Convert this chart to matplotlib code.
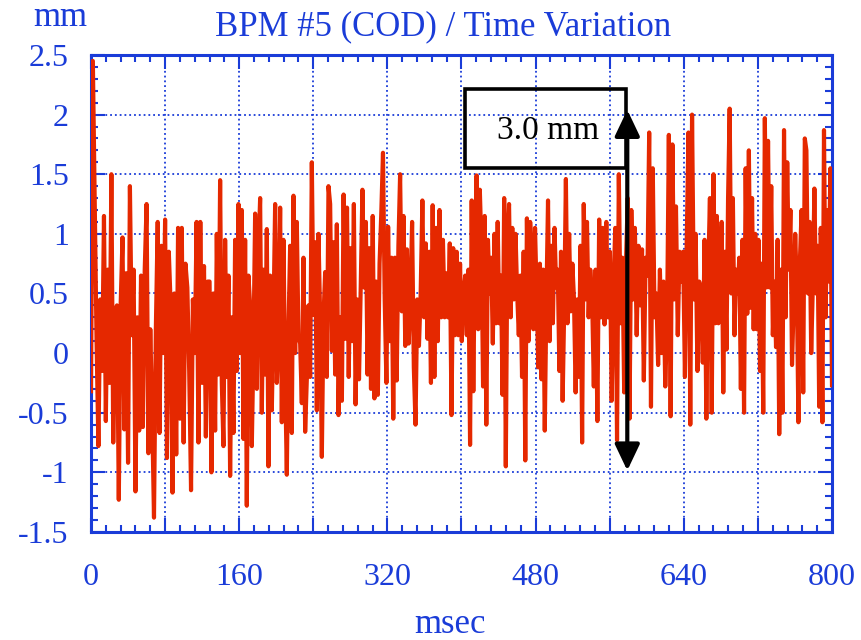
import matplotlib.pyplot as plt
import numpy as np
from matplotlib.ticker import MultipleLocator
from matplotlib.patches import Rectangle

plt.rcParams['font.family'] = ['Liberation Serif', 'DejaVu Serif']

# COD readings (mm) in six time blocks
seg_edges = [0, 134, 269, 404, 539, 674, 800]   # msec
seg1 = [-0.32, 2.45, 1.26, 0.1, -0.78, 0.45, -0.15, 1.15, -0.57, 0.7, -0.25, 1.5, -0.75, 0.35,
        0.4, -1.23, 0.4, 0.97, -0.64, 0.67, -0.92, 1.4, 0.15, 0.7, -1.16, 0.3, -0.65, 0.65, -0.62,
        0.7, 1.25, -0.84, 0.2, -0.5, -1.38, 0.2, 1.1, -0.67, 0.9, 0.0, 1.12, -0.88, 0.85, 0.4,
        -1.17, 0.5, -0.85, 1.05, -0.55, 1.05, -0.75, 0.75, 0.55, -0.15, -1.15, 0.45, 0.0, 1.1,
        -0.75, 1.1, -0.25, 0.73, -0.7, 0.6, 0.6, -1.0, 0.5]
seg2 = [-0.65, 1.0, -0.18, 1.45, -0.25, -0.78, 0.95, -0.2, 0.65, -1.03, 0.3, -0.67, 0.95, -0.15,
        1.25, 0.0, 1.2, -0.72, 0.95, -1.28, 0.65, 0.4, -0.78, 0.05, 1.17, -0.3, 0.85, 1.3, -0.5,
        0.7, -0.18, 1.04, -0.95, 0.65, -0.48, 0.3, 1.25, -0.25, 0.15, 1.22, -0.58, 0.95, -0.2,
        -1.02, 0.2, 0.9, -0.67, 1.32, 0.0, 1.1, 0.13, 0.08, -0.42, 0.8, -0.66, -0.22, 0.4, -0.2,
        1.6, 0.32, 0.93, -0.48, 1.0, 0.3, -0.87, 0.3, 0.68, -0.2, 1.4, 1.25, 0.02, 0.93, -0.18,
        1.08, -0.52]
seg3 = [0.3, -0.4, 1.33, 0.12, 1.22, -0.2, 0.88, 0.1, 1.25, -0.43, 0.45, -0.22, 0.55, 1.37, 0.55,
        1.1, -0.18, 0.88, -0.3, 1.15, -0.38, 0.6, -0.35, 0.75, 1.17, 1.68, 0.45, -0.25, 1.06, 0.1,
        0.8, -0.55, 0.8, -0.23, 0.9, 1.5, 0.35, 1.15, 0.06, 0.87, 0.08, 0.45, 1.1, -0.12, -0.6,
        0.45, 0.06, 0.5, 1.28, 0.3, 0.92, 0.12, 0.85, -0.25, 1.24, -0.2, 1.05, 0.1, 1.2, 0.3, 0.95,
        0.3, 0.67, 0.3, 0.92, -0.52, 0.88, 0.15, 0.85, 0.15, 0.75, 0.1, 0.5]
seg4 = [0.65, 0.15, 0.7, -0.77, 1.28, -0.32, 0.9, 1.49, 0.2, 1.37, 0.9, -0.28, 1.15, -0.6, 0.95,
        0.5, 0.8, 0.08, 1.0, 0.25, 1.1, 0.25, 0.65, -0.35, 1.3, -0.95, 0.97, 1.25, 0.3, 1.05, 0.45,
        1.0, 0.5, 0.15, 0.65, -0.2, 0.85, -0.9, 1.13, 0.1, 1.1, 0.8, 0.2, 1.05, 0.5, -0.12, 0.75,
        -0.22, 0.7, -0.65, 0.45, 1.28, 0.1, 0.9, 0.25, 1.05, 0.55, 0.7, -0.15, 0.85, -0.4, 0.4,
        1.46, 0.25, 1.0, 0.35, 0.75, 0.45, -0.33, 0.45, -0.2, 0.9, -0.75, 1.25, 0.45, 1.1, 0.3]
seg5 = [0.7, 0.5, -0.28, 0.7, -0.57, 1.12, 0.3, 1.05, 0.24, 1.1, 0.3, 0.85, -0.4, 0.55, 1.05,
        -0.73, 1.5, 0.25, 0.8, -0.33, 0.75, 1.3, -0.55, 1.2, 0.45, 1.05, 0.15, 0.9, 0.4, 0.87,
        -0.23, 0.8, 0.65, 1.85, -0.45, 1.55, 0.3, 0.5, -0.1, 0.7, 0.0, 0.6, -0.28, 0.25, 1.83,
        -0.53, 1.75, 0.45, 1.23, 0.15, 0.85, 0.6, 0.85, -0.2, 0.93, 1.85, -0.6, 2.0, 0.45, 1.0,
        -0.15, 0.6, 0.5, -0.08, 0.95, -0.55, 0.65, 1.3, -0.5, 1.5]
seg6 = [0.25, 1.15, 0.25, 0.35, 1.1, -0.33, 0.85, 0.03, 1.3, 2.05, 0.5, 1.3, 0.15, 0.7, 0.5, 0.8,
        -0.3, 0.95, -0.5, 1.55, 0.33, 1.7, 0.38, 1.3, 0.2, 1.0, 0.2, 0.95, -0.15, 0.75, -0.5, 1.97,
        0.55, 1.78, 0.55, 1.4, 0.15, 0.6, 0.05, 0.95, -0.68, 0.7, -0.5, 1.87, 0.3, 1.6, 0.7, 1.2,
        -0.1, 0.4, 1.0, 0.55, -0.58, 0.8, 1.2, -0.33, 1.8, 1.7, 0.5, 1.1, 0.0, 0.55, 1.38, 0.5,
        0.9, -0.45, 1.05, -0.58, 1.87, 0.3, 1.2, 0.6, 1.55, -0.27]
segments = [seg1, seg2, seg3, seg4, seg5, seg6]

xticks = [0, 80, 160, 240, 320, 400, 480, 560, 640, 720, 800]
yticks = [-1.5, -1, -0.5, 0, 0.5, 1, 1.5, 2, 2.5]
ylabels = ['-1.5', '-1', '-0.5', '0', '0.5', '1', '1.5', '2', '2.5']

# 3.0 mm span marker
span_x = 579
span_lo, span_hi = -0.985, 2.04
box_x0, box_x1 = 404, 578
box_y0, box_y1 = 1.552, 2.215

t = []
for i, seg in enumerate(segments):
    last = i == len(segments) - 1
    t.extend(np.linspace(seg_edges[i], seg_edges[i + 1], len(seg), endpoint=last))
cod = np.concatenate(segments)

blue = '#1a3cd8'
fig = plt.figure(figsize=(8.61, 6.40), dpi=100)
ax = fig.add_axes([0.1057, 0.1688, 0.8606, 0.7453])

ax.plot(t, cod, color='#e52800', lw=3, zorder=3)

ax.set_xlim(0, 800)
ax.set_ylim(-1.5, 2.5)
ax.set_xticks(xticks)
ax.set_xticklabels([str(v) if v % 160 == 0 else '' for v in xticks])
ax.xaxis.set_minor_locator(MultipleLocator(16))
ax.set_yticks(yticks)
ax.set_yticklabels(ylabels)
ax.yaxis.set_minor_locator(MultipleLocator(0.1))
ax.tick_params(which='both', direction='in', top=True, right=True, color=blue,
               labelcolor=blue, labelsize=23, width=1.5)
ax.tick_params(which='major', length=10)
ax.tick_params(which='minor', length=5)
ax.tick_params(axis='x', pad=22)
ax.tick_params(axis='y', pad=16)
ax.grid(True, color=blue, ls=':', lw=1.3)
for sp in ax.spines.values():
    sp.set_color(blue)
    sp.set_linewidth(2.2)

ax.add_patch(Rectangle((box_x0, box_y0), box_x1 - box_x0, box_y1 - box_y0,
                       fill=False, ec='black', lw=2.6, zorder=4))
ax.text((box_x0 + box_x1) / 2 + 3, (box_y0 + box_y1) / 2 - 0.02, '3.0 mm',
        ha='center', va='center', fontsize=24, color='black', zorder=5)
ax.annotate('', xy=(span_x, span_hi), xytext=(span_x, span_lo),
            arrowprops=dict(arrowstyle='<|-|>, head_length=0.8, head_width=0.38',
                            mutation_scale=20, color='black', lw=3,
                            shrinkA=0, shrinkB=0), zorder=5)

ax.set_title('BPM #5 (COD) / Time Variation', color=blue, fontsize=25, pad=14, x=0.475)
ax.set_xlabel('msec', color=blue, fontsize=25, labelpad=12)
ax.xaxis.label.set_x(0.485)
fig.text(60 / 861, 1 - 18 / 640, 'mm', ha='center', va='center', color=blue, fontsize=25)

fig.savefig('out.png', dpi=100)
